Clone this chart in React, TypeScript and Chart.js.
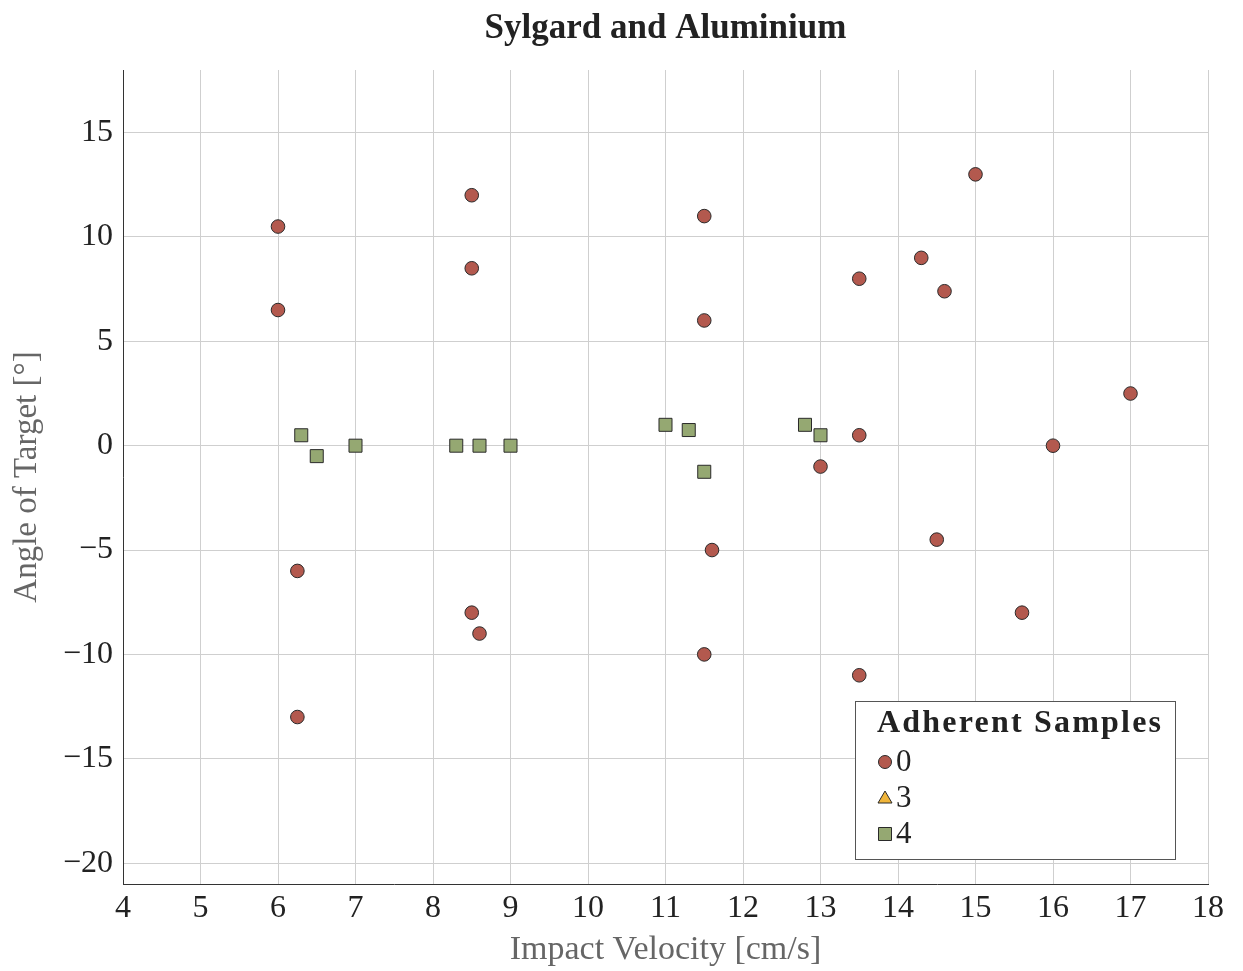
import React, { useEffect, useRef } from "react";
import { Chart, registerables } from "chart.js";
Chart.register(...registerables);

const TITLE = "Sylgard and Aluminium";
const X_LABEL = "Impact Velocity [cm/s]";
const Y_LABEL = "Angle of Target [°]";
const LEGEND_TITLE = "Adherent Samples";
const SERIES_NAMES = ["0", "3", "4"];

// Adherent samples = 0
const s0X = [6, 6, 6.25, 6.25, 8.5, 8.5, 8.5, 8.6, 11.5, 11.5, 11.6, 11.5, 13.5, 13.5, 13, 13.5, 14.3, 14.6, 15, 14.5, 15.6, 16, 17];
const s0Y = [10.5, 6.5, -6, -13, 12, 8.5, -8, -9, 11, 6, -5, -10, 8, 0.5, -1, -11, 9, 7.4, 13, -4.5, -8, 0, 2.5];
// Adherent samples = 3 (no visible points)
const s3X: number[] = [];
const s3Y: number[] = [];
// Adherent samples = 4
const s4X = [6.3, 6.5, 7, 8.3, 8.6, 9, 11, 11.3, 11.5, 12.8, 13];
const s4Y = [0.5, -0.5, 0, 0, 0, 0, 1, 0.75, -1.25, 1, 0.5];

const X_TICKS = [4, 5, 6, 7, 8, 9, 10, 11, 12, 13, 14, 15, 16, 17, 18];
const Y_TICKS = [-20, -15, -10, -5, 0, 5, 10, 15];

const FONT = "'Liberation Serif', 'DejaVu Serif', serif";
const COLORS = ["#b3594e", "#f0b53a", "#95a872"];
const STYLES = ["circle", "triangle", "rect"];
const RADII = [6.8, 8, 9.2];

const toPts = (xs: number[], ys: number[]) => xs.map((x, i) => ({ x, y: ys[i] }));
const fmt = (v: number) => (v < 0 ? "\u2212" + Math.abs(v) : String(v));

const legendPlugin = {
  id: "customLegend",
  afterDraw(chart: any) {
    const ctx = chart.ctx;
    const area = chart.chartArea;
    const w = 320;
    const h = 158;
    const x0 = area.right - 33 - w;
    const y0 = area.bottom - 25 - h;
    ctx.save();
    ctx.fillStyle = "#ffffff";
    ctx.fillRect(x0, y0, w, h);
    ctx.strokeStyle = "#555555";
    ctx.lineWidth = 1;
    ctx.strokeRect(x0 + 0.5, y0 + 0.5, w, h);
    ctx.fillStyle = "#222222";
    ctx.font = `bold 32px ${FONT}`;
    ctx.textBaseline = "middle";
    ctx.textAlign = "left";
    try { (ctx as any).letterSpacing = "2.2px"; } catch (e) {}
    ctx.fillText(LEGEND_TITLE, x0 + 22, y0 + 23);
    try { (ctx as any).letterSpacing = "0px"; } catch (e) {}
    ctx.font = `31px ${FONT}`;
    chart.data.datasets.forEach((ds: any, i: number) => {
      const cy = y0 + 61 + i * 36;
      const cx = x0 + 30;
      ctx.fillStyle = ds.backgroundColor;
      ctx.strokeStyle = ds.borderColor;
      ctx.lineWidth = 1;
      ctx.beginPath();
      if (ds.pointStyle === "circle") {
        ctx.arc(cx, cy, 6.5, 0, Math.PI * 2);
      } else if (ds.pointStyle === "triangle") {
        ctx.moveTo(cx, cy - 7);
        ctx.lineTo(cx + 7, cy + 5);
        ctx.lineTo(cx - 7, cy + 5);
        ctx.closePath();
      } else {
        ctx.rect(cx - 6.5, cy - 6.5, 13, 13);
      }
      ctx.fill();
      ctx.stroke();
      ctx.fillStyle = "#222222";
      ctx.fillText(ds.label, cx + 11, cy + 1);
    });
    ctx.restore();
  },
};

export default function App() {
  const ref = useRef<HTMLCanvasElement>(null);
  useEffect(() => {
    if (!ref.current) return;
    const series = [
      toPts(s0X, s0Y),
      toPts(s3X, s3Y),
      toPts(s4X, s4Y),
    ];
    const chart = new Chart(ref.current, {
      type: "scatter",
      data: {
        datasets: [0, 1, 2].map((i) => ({
          label: SERIES_NAMES[i],
          data: series[i],
          backgroundColor: COLORS[i],
          borderColor: "#2a2a2a",
          borderWidth: 1,
          pointStyle: STYLES[i] as any,
          pointRadius: RADII[i],
          pointHoverRadius: RADII[i],
        })),
      },
      options: {
        responsive: false,
        animation: false,
        layout: { padding: { left: 0, right: 35, top: 0, bottom: 0 } },
        plugins: {
          legend: { display: false },
          tooltip: { enabled: false },
          title: {
            display: true,
            text: TITLE,
            fullSize: false,
            color: "#222222",
            font: { family: FONT, size: 35, weight: "bold" },
            padding: { top: 8, bottom: 20 },
          },
        },
        scales: {
          x: {
            type: "linear",
            min: X_TICKS[0],
            max: X_TICKS[X_TICKS.length - 1],
            afterBuildTicks: (s: any) => {
              s.ticks = X_TICKS.map((v) => ({ value: v }));
            },
            afterFit: (s: any) => {
              s.height = 87;
            },
            ticks: {
              color: "#222222",
              font: { family: FONT, size: 32 },
              padding: 5,
              maxRotation: 0,
              autoSkip: false,
              callback: (v: any) => fmt(Number(v)),
            },
            grid: { color: "#cfcfcf", lineWidth: 1, drawTicks: false },
            border: { display: true, color: "#333333", width: 1 },
            title: {
              display: true,
              text: X_LABEL,
              color: "#666666",
              font: { family: FONT, size: 34 },
              padding: { top: 0, bottom: 1 },
            },
          },
          y: {
            type: "linear",
            min: -21,
            max: 18,
            afterBuildTicks: (s: any) => {
              s.ticks = Y_TICKS.map((v) => ({ value: v }));
            },
            afterFit: (s: any) => {
              s.width = 123;
            },
            ticks: {
              color: "#222222",
              font: { family: FONT, size: 32 },
              padding: 10,
              autoSkip: false,
              callback: (v: any) => fmt(Number(v)),
            },
            grid: { color: "#cfcfcf", lineWidth: 1, drawTicks: false },
            border: { display: true, color: "#333333", width: 1 },
            title: {
              display: true,
              text: Y_LABEL,
              color: "#666666",
              font: { family: FONT, size: 33 },
              padding: { top: 8, bottom: 0 },
            },
          },
        },
      },
      plugins: [legendPlugin],
    });
    return () => chart.destroy();
  }, []);
  return (
    <div style={{ position: "fixed", left: 0, top: 0, width: 1243, height: 971, background: "#fff" }}>
      <canvas ref={ref} width={1243} height={971} style={{ display: "block" }} />
    </div>
  );
}
